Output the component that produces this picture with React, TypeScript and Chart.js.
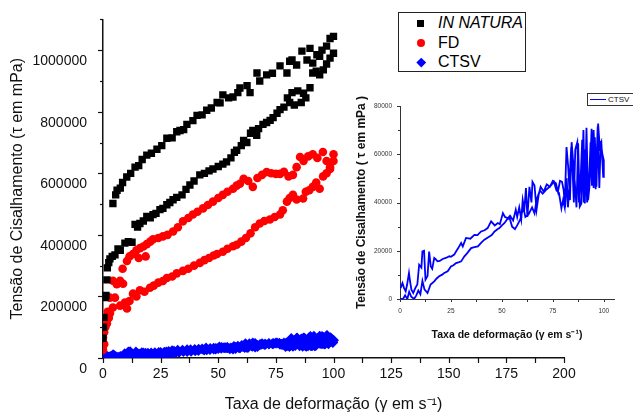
import React, { useEffect, useRef } from 'react';
import { Chart, registerables } from 'chart.js';
Chart.register(...registerables);

const FONT = '"Liberation Sans", Arial, Helvetica, sans-serif';

// ---------- data ----------
const inNaturaX = [
  0, 0.2, 0.4, 0.9, 1.3, 1.7, 1.9,
  4.3, 5.5, 6.1, 7.5, 8.5, 10.3, 12, 13.9, 15.5, 17, 19, 21, 23.4, 25.5, 27.7, 30, 32, 33.4, 35, 36.4, 39, 40.8, 43, 45, 47, 49.5, 50.8, 52, 54.5, 56.4, 58.5, 59.4, 62.5, 63.8, 66.8, 68, 71, 73.5, 76.8, 79.8, 81, 82, 84, 86.3, 88.5, 89.8, 91, 92.8, 94, 95, 97, 98.5, 100,
  2.5, 3, 4, 5.2, 6.5, 7.5, 9.5, 11, 12.6, 13.9, 15, 16, 17.5, 19, 20.5, 21.7, 23, 24.7, 26, 27.7, 29, 30.4, 32, 34.3, 36, 37.7, 39.5, 42, 44, 46, 47.7, 50, 52, 53.6, 55.5, 57, 58, 60, 61, 62.4, 64, 65, 66.7, 67.5, 69.4, 71, 72.5, 73.8, 75.5, 76.8, 78.5, 80, 81, 82, 83, 84.5, 86, 87, 88, 89.8, 91, 92.5, 94, 95.6, 97, 98.5, 100,
];
const inNaturaY = [
  64000, 100000, 132000, 196000, 203000, 254000, 293000,
  502000, 530000, 545000, 552000, 570000, 588000, 600000, 620000, 625000, 645000, 659000, 665000, 678000, 690000, 714000, 715000, 735000, 739000, 742000, 759000, 771000, 788000, 790000, 805000, 812000, 830000, 829000, 855000, 845000, 848000, 862000, 877000, 885000, 862000, 926000, 900000, 920000, 925000, 949000, 926000, 964000, 968000, 952000, 997000, 968000, 1006000, 958000, 985000, 980000, 1000000, 1013000, 1038000, 1045000,
  310000, 322000, 330000, 335000, 354000, 350000, 373000, 378000, 376000, 434000, 425000, 437000, 445000, 460000, 455000, 466000, 470000, 482000, 486000, 498000, 505000, 514000, 522000, 530000, 548000, 562000, 575000, 595000, 600000, 608000, 614000, 622000, 630000, 637000, 650000, 668000, 675000, 690000, 707000, 700000, 730000, 739000, 723000, 745000, 759000, 765000, 772000, 781000, 795000, 807000, 815000, 845000, 830000, 862000, 822000, 868000, 830000, 860000, 845000, 878000, 926000, 932000, 920000, 936000, 955000, 974000, 990000,
];

const fdX = [
  0, 0.5, 1, 1.7, 2.5, 3, 4.3, 5.2, 6, 7.4, 8.5, 10.4, 11.5, 13, 14.5, 15.5, 16, 17.5, 18.5, 19, 20.5, 21.7, 24, 26, 28, 30.4, 32.5, 34.7, 37, 39, 41, 43.4, 45.5, 47.7, 50, 52, 54, 56.4, 58, 59.4, 61, 63, 65, 67, 69, 71, 73, 75, 76.8, 78.5, 80.5, 82.4, 84, 85.5, 87, 89, 91, 93, 95.4, 97, 98.5, 100,
  0, 0.5, 2, 3, 4.3, 6, 7.4, 8.7, 9.5, 10.4, 11.5, 13, 14.5, 16, 18, 20.4, 22, 24, 26, 27.7, 30, 32, 34.7, 37, 39.5, 42, 44, 46, 48, 49.5, 52, 54, 56.4, 58, 60, 62, 64, 66, 68, 70, 72.4, 74.5, 76.8, 78, 79.8, 81, 82.4, 84, 86.8, 88, 89.5, 91, 92.5, 94, 95.5, 97, 98.5, 100,
];
const fdY = [
  67000, 84000, 100000, 112000, 130000, 145000, 164000, 196000, 241000, 251000, 290000, 315000, 330000, 338000, 350000, 325000, 357000, 362000, 330000, 370000, 378000, 386000, 390000, 395000, 400000, 411000, 425000, 444000, 455000, 466000, 475000, 486000, 497000, 508000, 520000, 530000, 540000, 550000, 560000, 566000, 582000, 575000, 556000, 585000, 595000, 604000, 600000, 598000, 598000, 605000, 590000, 595000, 620000, 653000, 640000, 655000, 662000, 650000, 669000, 640000, 614000, 662000,
  26000, 45000, 150000, 196000, 251000, 240000, 170000, 241000, 180000, 161000, 185000, 209000, 200000, 220000, 215000, 228000, 235000, 245000, 250000, 260000, 265000, 275000, 283000, 290000, 300000, 309000, 318000, 325000, 333000, 338000, 345000, 355000, 363000, 368000, 378000, 390000, 405000, 425000, 437000, 445000, 450000, 458000, 466000, 480000, 508000, 520000, 530000, 515000, 518000, 540000, 545000, 556000, 570000, 550000, 590000, 600000, 620000, 640000,
];

// CTSV: increasing sweep followed by decreasing sweep
const ctsvX = [
  0, 1.5, 2.5, 3.6, 4.5, 5.5, 6.9, 8, 9, 10, 11, 12, 13.5, 15, 16.8, 18, 19.2, 20.5, 21.7, 23.4, 25, 26.2, 27.5, 29, 30, 31.6, 33, 34.9, 36.5, 38.2, 40, 41.4, 43.9, 45, 46.4, 48, 48.8, 50, 51.3, 52.5, 53.8, 55, 56.4, 57.5, 59, 60.5, 61.5, 63, 64.8, 66, 67, 68.6, 70, 72, 74, 75.5, 76.8, 78, 79.2, 80, 80.8, 81.7, 82.5, 83.4, 84.2, 85.8, 86.6, 87.4, 88.2, 89, 90, 90.7, 91.5, 92.3, 93, 94, 95, 95.6, 96.4, 97.2, 98, 98.8, 99.7, 100,
  99.3, 98.5, 97.8, 97, 96, 95, 94.2, 93.5, 92.6, 91.8, 91, 90.2, 89.4, 88.5, 87.8, 87, 86, 85.3, 84.6, 84, 83, 82.4, 81.8, 81, 80.3, 79.5, 78.5, 77.5, 76.5, 75, 73.5, 72, 70.5, 69, 68, 67, 66, 65, 64.5, 63.5, 62.5, 61.8, 61, 60.2, 59.5, 58.5, 57.5, 56.8, 55.5, 54, 53, 51.5, 50.5, 49, 48, 46.5, 44.7, 43, 41.5, 39.8, 38, 36.5, 34.5, 32.4, 30.8, 30, 28.5, 27.5, 26.6, 25, 24.2, 22.5, 20.9, 19.5, 18.4, 17.5, 16.8, 15.8, 15.1, 14.3, 13.5, 12.5, 11.8, 11, 10.5, 9.4, 8.5, 7.5, 6.5, 5.6, 5, 4.4, 3.5, 2.8, 2, 1.2, 0.3,
];
const ctsvY = [
  0, 0, 1500, 0, 3000, 1000, 0, 1500, 3500, 2000, 7500, 4000, 2500, 6000, 7300, 8500, 9400, 10000, 10800, 11500, 13500, 14000, 14900, 15300, 15600, 17700, 19000, 21100, 21500, 21800, 23500, 24600, 25900, 26500, 28000, 29000, 29400, 30500, 31500, 33000, 33500, 30000, 29000, 30500, 33000, 38000, 34000, 35000, 38000, 35500, 41000, 45000, 43700, 45500, 47000, 48600, 45000, 44000, 37600, 41000, 38000, 63000, 55000, 41000, 65000, 48000, 38000, 64500, 38300, 39600, 70000, 39600, 71000, 41000, 47000, 70600, 46000, 67000, 46500, 72700, 63000, 65000, 50600, 57500,
  60000, 65500, 46000, 71500, 45500, 70000, 47000, 65000, 45000, 40000, 62000, 40000, 66000, 47000, 40000, 65000, 62000, 40000, 55000, 63000, 45000, 38000, 50000, 38000, 45000, 48600, 49000, 44500, 48000, 49000, 46500, 47500, 44500, 46500, 43000, 37000, 47000, 48500, 40000, 46500, 34000, 46000, 37000, 41000, 33000, 38000, 34000, 37000, 32500, 34500, 33500, 34000, 35600, 31000, 31500, 30500, 32200, 29400, 28500, 28000, 26500, 26600, 25000, 25300, 21800, 23200, 21000, 19700, 18400, 17500, 17700, 17000, 16600, 15800, 15600, 16500, 17000, 12500, 13500, 19700, 9500, 8000, 20000, 19700, 13000, 14200, 6000, 4500, 2500, 3900, 7000, 10800, 6000, 3200, 4500, 6600, 4500,
];

const seriesNames = ['IN NATURA', 'FD', 'CTSV'];
const seriesColors = ['#000000', '#ff0000', '#0000ff'];

const mainXLabelStep = 25;
const mainYLabelStep = 200000;
const insetXLabelStep = 25;
const insetYLabelStep = 20000;

const toPoints = (xs: number[], ys: number[]) => xs.map((x, i) => ({ x, y: ys[i] }));

function makeTickPlugin(id: string, color: string, width: number, xMajor: number, xMinor: number, yMajor: number, yMinor: number) {
  return {
    id,
    afterDraw(chart: any) {
      const ctx = chart.ctx;
      const xs = chart.scales.x;
      const ys = chart.scales.y;
      ctx.save();
      ctx.strokeStyle = color;
      ctx.lineWidth = width;
      xs.ticks.forEach((t: any) => {
        const px = Math.round(xs.getPixelForValue(t.value)) + 0.5;
        const len = t.label !== '' ? xMajor : xMinor;
        ctx.beginPath();
        ctx.moveTo(px, xs.top);
        ctx.lineTo(px, xs.top + len);
        ctx.stroke();
      });
      ys.ticks.forEach((t: any) => {
        const py = Math.round(ys.getPixelForValue(t.value)) + 0.5;
        const len = t.label !== '' ? yMajor : yMinor;
        ctx.beginPath();
        ctx.moveTo(ys.right, py);
        ctx.lineTo(ys.right - len, py);
        ctx.stroke();
      });
      ctx.restore();
    },
  };
}

export default function App() {
  const mainRef = useRef<HTMLCanvasElement>(null);
  const insetRef = useRef<HTMLCanvasElement>(null);

  useEffect(() => {
    const main = new Chart(mainRef.current as HTMLCanvasElement, {
      type: 'scatter',
      data: {
        datasets: [
          { label: seriesNames[0], data: toPoints(inNaturaX, inNaturaY), pointStyle: 'rect', pointRadius: 5.2, backgroundColor: seriesColors[0], borderColor: seriesColors[0], borderWidth: 0 },
          { label: seriesNames[1], data: toPoints(fdX, fdY), pointStyle: 'circle', pointRadius: 4.3, backgroundColor: seriesColors[1], borderColor: seriesColors[1], borderWidth: 0 },
          { label: seriesNames[2], data: toPoints(ctsvX, ctsvY), pointStyle: 'rectRot', pointRadius: 5.5, backgroundColor: seriesColors[2], borderColor: seriesColors[2], borderWidth: 0 },
        ],
      },
      options: {
        animation: false,
        responsive: false,
        maintainAspectRatio: false,
        layout: { padding: { top: 15, right: 69, bottom: 0, left: 0 } },
        plugins: { legend: { display: false }, tooltip: { enabled: false } },
        scales: {
          x: {
            type: 'linear',
            min: 0,
            max: 200,
            afterFit: (s: any) => { s.height = 56; },
            border: { display: true, color: '#111', width: 1.5 },
            grid: { drawOnChartArea: false, drawTicks: true, tickLength: 5, tickColor: 'rgba(0,0,0,0)' },
            ticks: {
              stepSize: 12.5,
              autoSkip: false,
              maxRotation: 0,
              padding: 3,
              color: '#111',
              font: { family: FONT, size: 14 },
              callback: (v: any) => (Number(v) % mainXLabelStep === 0 ? String(v) : ''),
            },
            title: { display: true, text: 'Taxa de deformação (γ em s⁻¹)', color: '#111', font: { family: FONT, size: 16 }, padding: { top: 0, bottom: 0 } },
          },
          y: {
            type: 'linear',
            min: 0,
            max: 1100000,
            afterFit: (s: any) => { s.width = 103; },
            border: { display: true, color: '#111', width: 1.5 },
            grid: { drawOnChartArea: false, drawTicks: true, tickLength: 5, tickColor: 'rgba(0,0,0,0)' },
            ticks: {
              stepSize: 100000,
              autoSkip: false,
              padding: 11,
              labelOffset: 11,
              color: '#111',
              font: { family: FONT, size: 14 },
              callback: (v: any) => (Number(v) % mainYLabelStep === 0 ? String(v) : ''),
            },
            title: { display: true, text: 'Tensão de Cisalhamento (τ em mPa)', color: '#111', font: { family: FONT, size: 16 }, padding: { top: 8, bottom: 0 } },
          },
        },
      },
      plugins: [makeTickPlugin('mainTicks', '#111', 1.2, 5, 5, 5, 3)],
    } as any);

    const inset = new Chart(insetRef.current as HTMLCanvasElement, {
      type: 'scatter',
      data: {
        datasets: [
          { label: seriesNames[2], data: toPoints(ctsvX, ctsvY), showLine: true, pointRadius: 0, borderColor: seriesColors[2], backgroundColor: seriesColors[2], borderWidth: 1.8, tension: 0 },
        ],
      },
      options: {
        animation: false,
        responsive: false,
        maintainAspectRatio: false,
        layout: { padding: { top: 21, right: 19, bottom: 0, left: 0 } },
        plugins: { legend: { display: false }, tooltip: { enabled: false } },
        scales: {
          x: {
            type: 'linear',
            min: 0,
            max: 105,
            afterFit: (s: any) => { s.height = 51; },
            border: { display: true, color: '#333', width: 1 },
            grid: { drawOnChartArea: false, drawTicks: true, tickLength: 3, tickColor: 'rgba(0,0,0,0)' },
            ticks: {
              stepSize: 12.5,
              includeBounds: false,
              autoSkip: false,
              maxRotation: 0,
              padding: 5,
              color: '#333',
              font: { family: FONT, size: 6.5 },
              callback: (v: any) => (Number(v) % insetXLabelStep === 0 ? String(v) : ''),
            },
            title: { display: true, text: 'Taxa de deformação (γ em s⁻¹)', color: '#111', font: { family: FONT, size: 10.5, weight: 'bold' }, padding: { top: 0, bottom: 9 } },
          },
          y: {
            type: 'linear',
            min: 0,
            max: 80000,
            afterFit: (s: any) => { s.width = 55; },
            border: { display: true, color: '#333', width: 1 },
            grid: { drawOnChartArea: false, drawTicks: true, tickLength: 3, tickColor: 'rgba(0,0,0,0)' },
            ticks: {
              stepSize: 10000,
              autoSkip: false,
              padding: 5,
              color: '#333',
              font: { family: FONT, size: 6.5 },
              callback: (v: any) => (Number(v) % insetYLabelStep === 0 ? String(v) : ''),
            },
            title: { display: true, text: 'Tensão de Cisalhamento ( τ em mPa )', color: '#111', font: { family: FONT, size: 12, weight: 'bold' }, padding: { top: 9, bottom: 0 } },
          },
        },
      },
      plugins: [makeTickPlugin('insetTicks', '#333', 1, 3, 3, 3, 2)],
    } as any);

    return () => {
      main.destroy();
      inset.destroy();
    };
  }, []);

  const legendRow = (top: number): React.CSSProperties => ({
    position: 'absolute', left: 39, top, fontSize: 16, lineHeight: '18px', color: '#000', whiteSpace: 'nowrap',
  });

  return (
    <div style={{ position: 'fixed', left: 0, top: 0, width: 633, height: 414, background: '#fff', overflow: 'hidden', fontFamily: FONT }}>
      <canvas ref={mainRef} width={633} height={414} style={{ position: 'absolute', left: 0, top: 0 }} />
      <canvas ref={insetRef} width={288} height={265} style={{ position: 'absolute', left: 345, top: 85 }} />

      {/* main legend */}
      <div style={{ position: 'absolute', left: 398, top: 12, width: 128, height: 60, border: '1px solid #222', boxSizing: 'border-box', background: '#fff' }}>
        <div style={{ position: 'absolute', left: 18, top: 7, width: 7, height: 7, background: seriesColors[0] }} />
        <div style={{ position: 'absolute', left: 17.5, top: 26, width: 8, height: 8, borderRadius: '50%', background: seriesColors[1] }} />
        <div style={{ position: 'absolute', left: 18.5, top: 46, width: 6.5, height: 6.5, background: seriesColors[2], transform: 'rotate(45deg)' }} />
        <div style={{ ...legendRow(1), fontStyle: 'italic' }}>{seriesNames[0]}</div>
        <div style={legendRow(21)}>{seriesNames[1]}</div>
        <div style={legendRow(40)}>{seriesNames[2]}</div>
      </div>

      {/* inset legend */}
      <div style={{ position: 'absolute', left: 587, top: 93, width: 50, height: 13, border: '1px solid #333', boxSizing: 'border-box', background: '#fff' }}>
        <div style={{ position: 'absolute', left: 2, top: 4.5, width: 16, height: 1.5, background: seriesColors[2] }} />
        <div style={{ position: 'absolute', left: 20, top: 0, fontSize: 8, lineHeight: '11px', color: '#111', whiteSpace: 'nowrap' }}>{seriesNames[2]}</div>
      </div>
    </div>
  );
}
